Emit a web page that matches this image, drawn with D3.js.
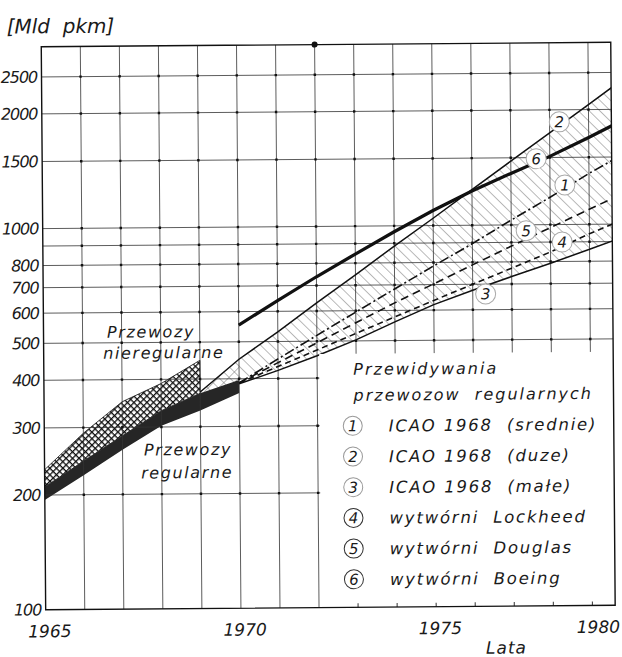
<!DOCTYPE html>
<html>
<head>
<meta charset="utf-8">
<script src="https://cdn.jsdelivr.net/npm/d3@7"></script>
<style>
  body { margin: 0; background: #fff; }
  text { font-family: "DejaVu Sans", sans-serif; font-style: italic; fill: #1a1a1a; }
</style>
</head>
<body>
<svg id="chart" width="622" height="657"></svg>
<script>
'use strict';

// --- data (Mld pkm) ---
const histYears = [1965, 1966, 1967, 1968, 1969, 1970];
const regularLow = [194, 225, 262, 302, 331, 367];
const regularHigh = [210, 245, 285, 331, 367, 397];

const irregularYears = [1965, 1966, 1967, 1968, 1969];
const irregularTop = [233, 290, 350, 390, 448];

const forecastYears = [1970, 1971, 1972, 1973, 1974, 1975, 1976, 1977, 1978, 1979, 1980];
const icaoMid = [390, 450, 518, 595, 683, 783, 895, 1030, 1180, 1360, 1550];      // (1)
const icaoHighYears = [1969, 1970, 1971, 1972, 1973, 1974, 1975, 1976, 1977, 1978, 1979, 1980];
const icaoHigh = [370, 450, 530, 630, 745, 885, 1045, 1240, 1470, 1740, 2060, 2445]; // (2)
const icaoLow = [388, 420, 458, 503, 560, 620, 675, 732, 792, 860, 935];          // (3)
const lockheed = [390, 430, 474, 523, 577, 636, 700, 770, 848, 945, 1040];        // (4)
const douglas = [390, 440, 495, 558, 628, 703, 787, 880, 982, 1095, 1220];        // (5)
const boeing = [553, 640, 738, 845, 965, 1095, 1230, 1365, 1510, 1690, 1900];     // (6)

// where the circled numbers sit on the chart [year, value]
const markerNums = [1, 2, 3, 4, 5, 6];
const markerPos = [[1978.38, 1270], [1978.25, 1860], [1976.33, 660], [1978.3, 900], [1977.38, 965], [1977.65, 1490]];

const yTickLabels = [100, 200, 300, 400, 500, 600, 700, 800, 1000, 1500, 2000, 2500];
const gridValues = [200, 300, 400, 500, 600, 700, 800, 900, 1000, 1500, 2000, 2500];
const gridYears = d3.range(1966, 1980);
const xTickLabels = [1965, 1970, 1975, 1980];

const legendTitle = ['Przewidywania', 'przewozow  regularnych'];
const legendLabels = ['ICAO 1968  (srednie)', 'ICAO 1968  (duze)', 'ICAO 1968  (małe)',
  'wytwórni  Lockheed', 'wytwórni  Douglas', 'wytwórni  Boeing'];

// --- scales ---
const x = d3.scaleLinear().domain([1965, 1980]).range([43.5, 629.25]);
const y = d3.scaleLog().domain([100, 3000]).range([607.5, 44.5]);
const xEnd = x.invert(613); // the scan is cut just before 1980
const pL = x(1965), pR = x(xEnd), pT = y(3000), pB = y(100);

const svg = d3.select('#chart');
const defs = svg.append('defs');

defs.append('clipPath').attr('id', 'plot-clip')
  .append('rect').attr('x', pL).attr('y', pT)
  .attr('width', pR - pL).attr('height', pB - pT);

// dense crosshatch for irregular traffic
const cell = 4.6;
const cross = defs.append('pattern').attr('id', 'cross')
  .attr('patternUnits', 'userSpaceOnUse').attr('width', cell).attr('height', cell)
  .attr('patternTransform', 'rotate(45)');
cross.append('rect').attr('width', cell).attr('height', cell).attr('fill', '#fff');
cross.append('line').attr('x1', 0).attr('y1', 0).attr('x2', 0).attr('y2', cell)
  .attr('stroke', '#111').attr('stroke-width', 2.6);
cross.append('line').attr('x1', 0).attr('y1', 0).attr('x2', cell).attr('y2', 0)
  .attr('stroke', '#111').attr('stroke-width', 2.6);

// "\" hatch for the forecast fan, "/" added near 1969-70
const hatch = (id, angle) => {
  const p = defs.append('pattern').attr('id', id)
    .attr('patternUnits', 'userSpaceOnUse').attr('width', 7.5).attr('height', 7.5)
    .attr('patternTransform', `rotate(${angle})`);
  p.append('line').attr('x1', 0).attr('y1', 0).attr('x2', 0).attr('y2', 7.5)
    .attr('stroke', '#666').attr('stroke-width', 0.9);
};
hatch('hatch-back', -45);
hatch('hatch-fwd', 45);

const root = svg.append('g').attr('transform', 'rotate(-0.45 330 330)');

// --- forecast fan ---
const fanRows = icaoHighYears.map((yr, i) => ({
  year: yr,
  top: icaoHigh[i],
  bottom: yr < 1970 ? regularHigh[histYears.indexOf(yr)] : icaoLow[forecastYears.indexOf(yr)]
}));
const band = d3.area().x(d => x(d.year)).y0(d => y(d.bottom)).y1(d => y(d.top));

const plot = root.append('g').attr('clip-path', 'url(#plot-clip)');
plot.append('path').datum(fanRows).attr('d', band).attr('fill', 'url(#hatch-back)');
plot.append('path').datum(fanRows.filter(d => d.year <= 1970)).attr('d', band)
  .attr('fill', 'url(#hatch-fwd)');

// --- irregular traffic (crosshatch on top of regular band) ---
const irregRows = irregularYears.map((yr, i) => ({ year: yr, top: irregularTop[i], bottom: regularHigh[i] }));
plot.append('path').datum(irregRows).attr('d', band).attr('fill', 'url(#cross)')
  .attr('stroke', '#111').attr('stroke-width', 0.8);

// --- grid ---
const grid = root.append('g').attr('stroke', '#333').attr('stroke-width', 0.8);
grid.selectAll('.vg').data(gridYears).join('line').attr('class', 'vg')
  .attr('x1', d => x(d)).attr('x2', d => x(d)).attr('y1', pT).attr('y2', pB);
grid.selectAll('.hg').data(gridValues).join('line').attr('class', 'hg')
  .attr('x1', pL).attr('x2', pR).attr('y1', d => y(d)).attr('y2', d => y(d));
const crossings = gridYears.flatMap(yr => gridValues.map(v => [yr, v]));
root.append('g').selectAll('rect').data(crossings).join('rect')
  .attr('x', d => x(d[0]) - 1.2).attr('y', d => y(d[1]) - 1.2)
  .attr('width', 2.4).attr('height', 2.4).attr('fill', '#111');

// --- regular traffic band ---
const regRows = histYears.map((yr, i) => ({ year: yr, top: regularHigh[i], bottom: regularLow[i] }));
plot.append('path').datum(regRows).attr('d', band).attr('fill', '#262626');

// --- forecast lines ---
const line = d3.line().x(d => x(d[0])).y(d => y(d[1]));
const series = (years, vals) => years.map((yr, i) => [yr, vals[i]]);
const lineLayer = root.append('g').attr('clip-path', 'url(#plot-clip)').attr('fill', 'none');

lineLayer.append('path').datum(series(icaoHighYears, icaoHigh)).attr('d', line)
  .attr('stroke', '#111').attr('stroke-width', 1.5);
lineLayer.append('path').datum(series(forecastYears, icaoLow)).attr('d', line)
  .attr('stroke', '#111').attr('stroke-width', 1.5);
lineLayer.append('path').datum(series(forecastYears, icaoMid)).attr('d', line)
  .attr('stroke', '#111').attr('stroke-width', 1.6).attr('stroke-dasharray', '10,3,2,3');
lineLayer.append('path').datum(series(forecastYears, douglas)).attr('d', line)
  .attr('stroke', '#111').attr('stroke-width', 1.6).attr('stroke-dasharray', '8,5');
lineLayer.append('path').datum(series(forecastYears, lockheed)).attr('d', line)
  .attr('stroke', '#111').attr('stroke-width', 1.6).attr('stroke-dasharray', '6,4');
lineLayer.append('path').datum(series(forecastYears, boeing)).attr('d', line)
  .attr('stroke', '#111').attr('stroke-width', 3.2);

// circled numbers on the lines
const marks = root.append('g').selectAll('g').data(markerNums).join('g')
  .attr('transform', (d, i) => `translate(${x(markerPos[i][0])},${y(markerPos[i][1])})`);
marks.append('circle').attr('r', 10).attr('fill', '#fff').attr('stroke', '#aaa').attr('stroke-width', 1);
marks.append('text').attr('text-anchor', 'middle').attr('dy', '0.36em')
  .attr('font-size', 15).attr('fill', '#444').text(d => d);

// --- legend box ---
const legendX = 319, legendY = 354;
root.append('rect').attr('x', legendX).attr('y', legendY)
  .attr('width', pR - legendX).attr('height', pB - legendY).attr('fill', '#fff');
root.append('g').attr('stroke', '#333').selectAll('line').data(d3.range(1973, 1980)).join('line')
  .attr('x1', d => x(d)).attr('x2', d => x(d)).attr('y1', pB).attr('y2', pB - 4);

root.append('g').selectAll('text').data(legendTitle).join('text')
  .attr('x', 353).attr('y', (d, i) => 375 + i * 26)
  .attr('font-size', 16).attr('letter-spacing', 2).attr('fill', '#333')
  .style('white-space', 'pre').text(d => d);

const items = root.append('g').selectAll('g').data(legendLabels).join('g')
  .attr('transform', (d, i) => `translate(352,${426 + i * 30.7})`);
items.append('circle').attr('r', 9.5).attr('fill', '#fff')
  .attr('stroke', (d, i) => i < 3 ? '#999' : '#333').attr('stroke-width', 1);
items.append('text').attr('text-anchor', 'middle').attr('dy', '0.36em').attr('font-size', 15)
  .attr('fill', (d, i) => i < 3 ? '#444' : '#1a1a1a').text((d, i) => markerNums[i]);
items.append('text').attr('x', 36).attr('dy', '0.36em').attr('font-size', 16.5)
  .attr('letter-spacing', 1.8).style('white-space', 'pre')
  .attr('fill', (d, i) => i < 3 ? '#555' : '#1a1a1a').text(d => d);

// --- frame ---
root.append('rect').attr('x', pL).attr('y', pT).attr('width', pR - pL).attr('height', pB - pT)
  .attr('fill', 'none').attr('stroke', '#111').attr('stroke-width', 1.4);
root.append('circle').attr('cx', x(1972)).attr('cy', pT).attr('r', 3).attr('fill', '#111');

// --- axis labels ---
const yAxis = root.append('g').attr('transform', `translate(${pL},0)`)
  .call(d3.axisLeft(y).tickValues(yTickLabels).tickFormat(d3.format('d')).tickSize(0).tickPadding(4.5));
yAxis.select('.domain').remove();
yAxis.attr('font-family', null).attr('font-size', null);
yAxis.selectAll('text').attr('font-size', 16).attr('letter-spacing', -1.1).attr('fill', '#1a1a1a');

root.append('g').selectAll('text').data(xTickLabels).join('text')
  .attr('x', d => Math.min(x(d) + 4, pR - 17)).attr('y', 635)
  .attr('text-anchor', 'middle').attr('font-size', 17).text(d => d);
root.append('text').attr('x', 504).attr('y', 655).attr('text-anchor', 'middle')
  .attr('font-size', 17).attr('letter-spacing', 1).text('Lata');
root.append('text').attr('x', 9).attr('y', 31).attr('font-size', 20)
  .style('white-space', 'pre').text('[Mld  pkm]');

// --- text inside the plot ---
const note = (lines, xs, ys) => root.append('g').selectAll('text').data(lines).join('text')
  .attr('x', (d, i) => xs[i]).attr('y', (d, i) => ys[i])
  .attr('font-size', 16).attr('letter-spacing', 1.6).text(d => d);
note(['Przewozy', 'nieregularne'], [107, 103], [336, 357]);
note(['Przewozy', 'regularne'], [143, 140], [454, 477]);
</script>
</body>
</html>
